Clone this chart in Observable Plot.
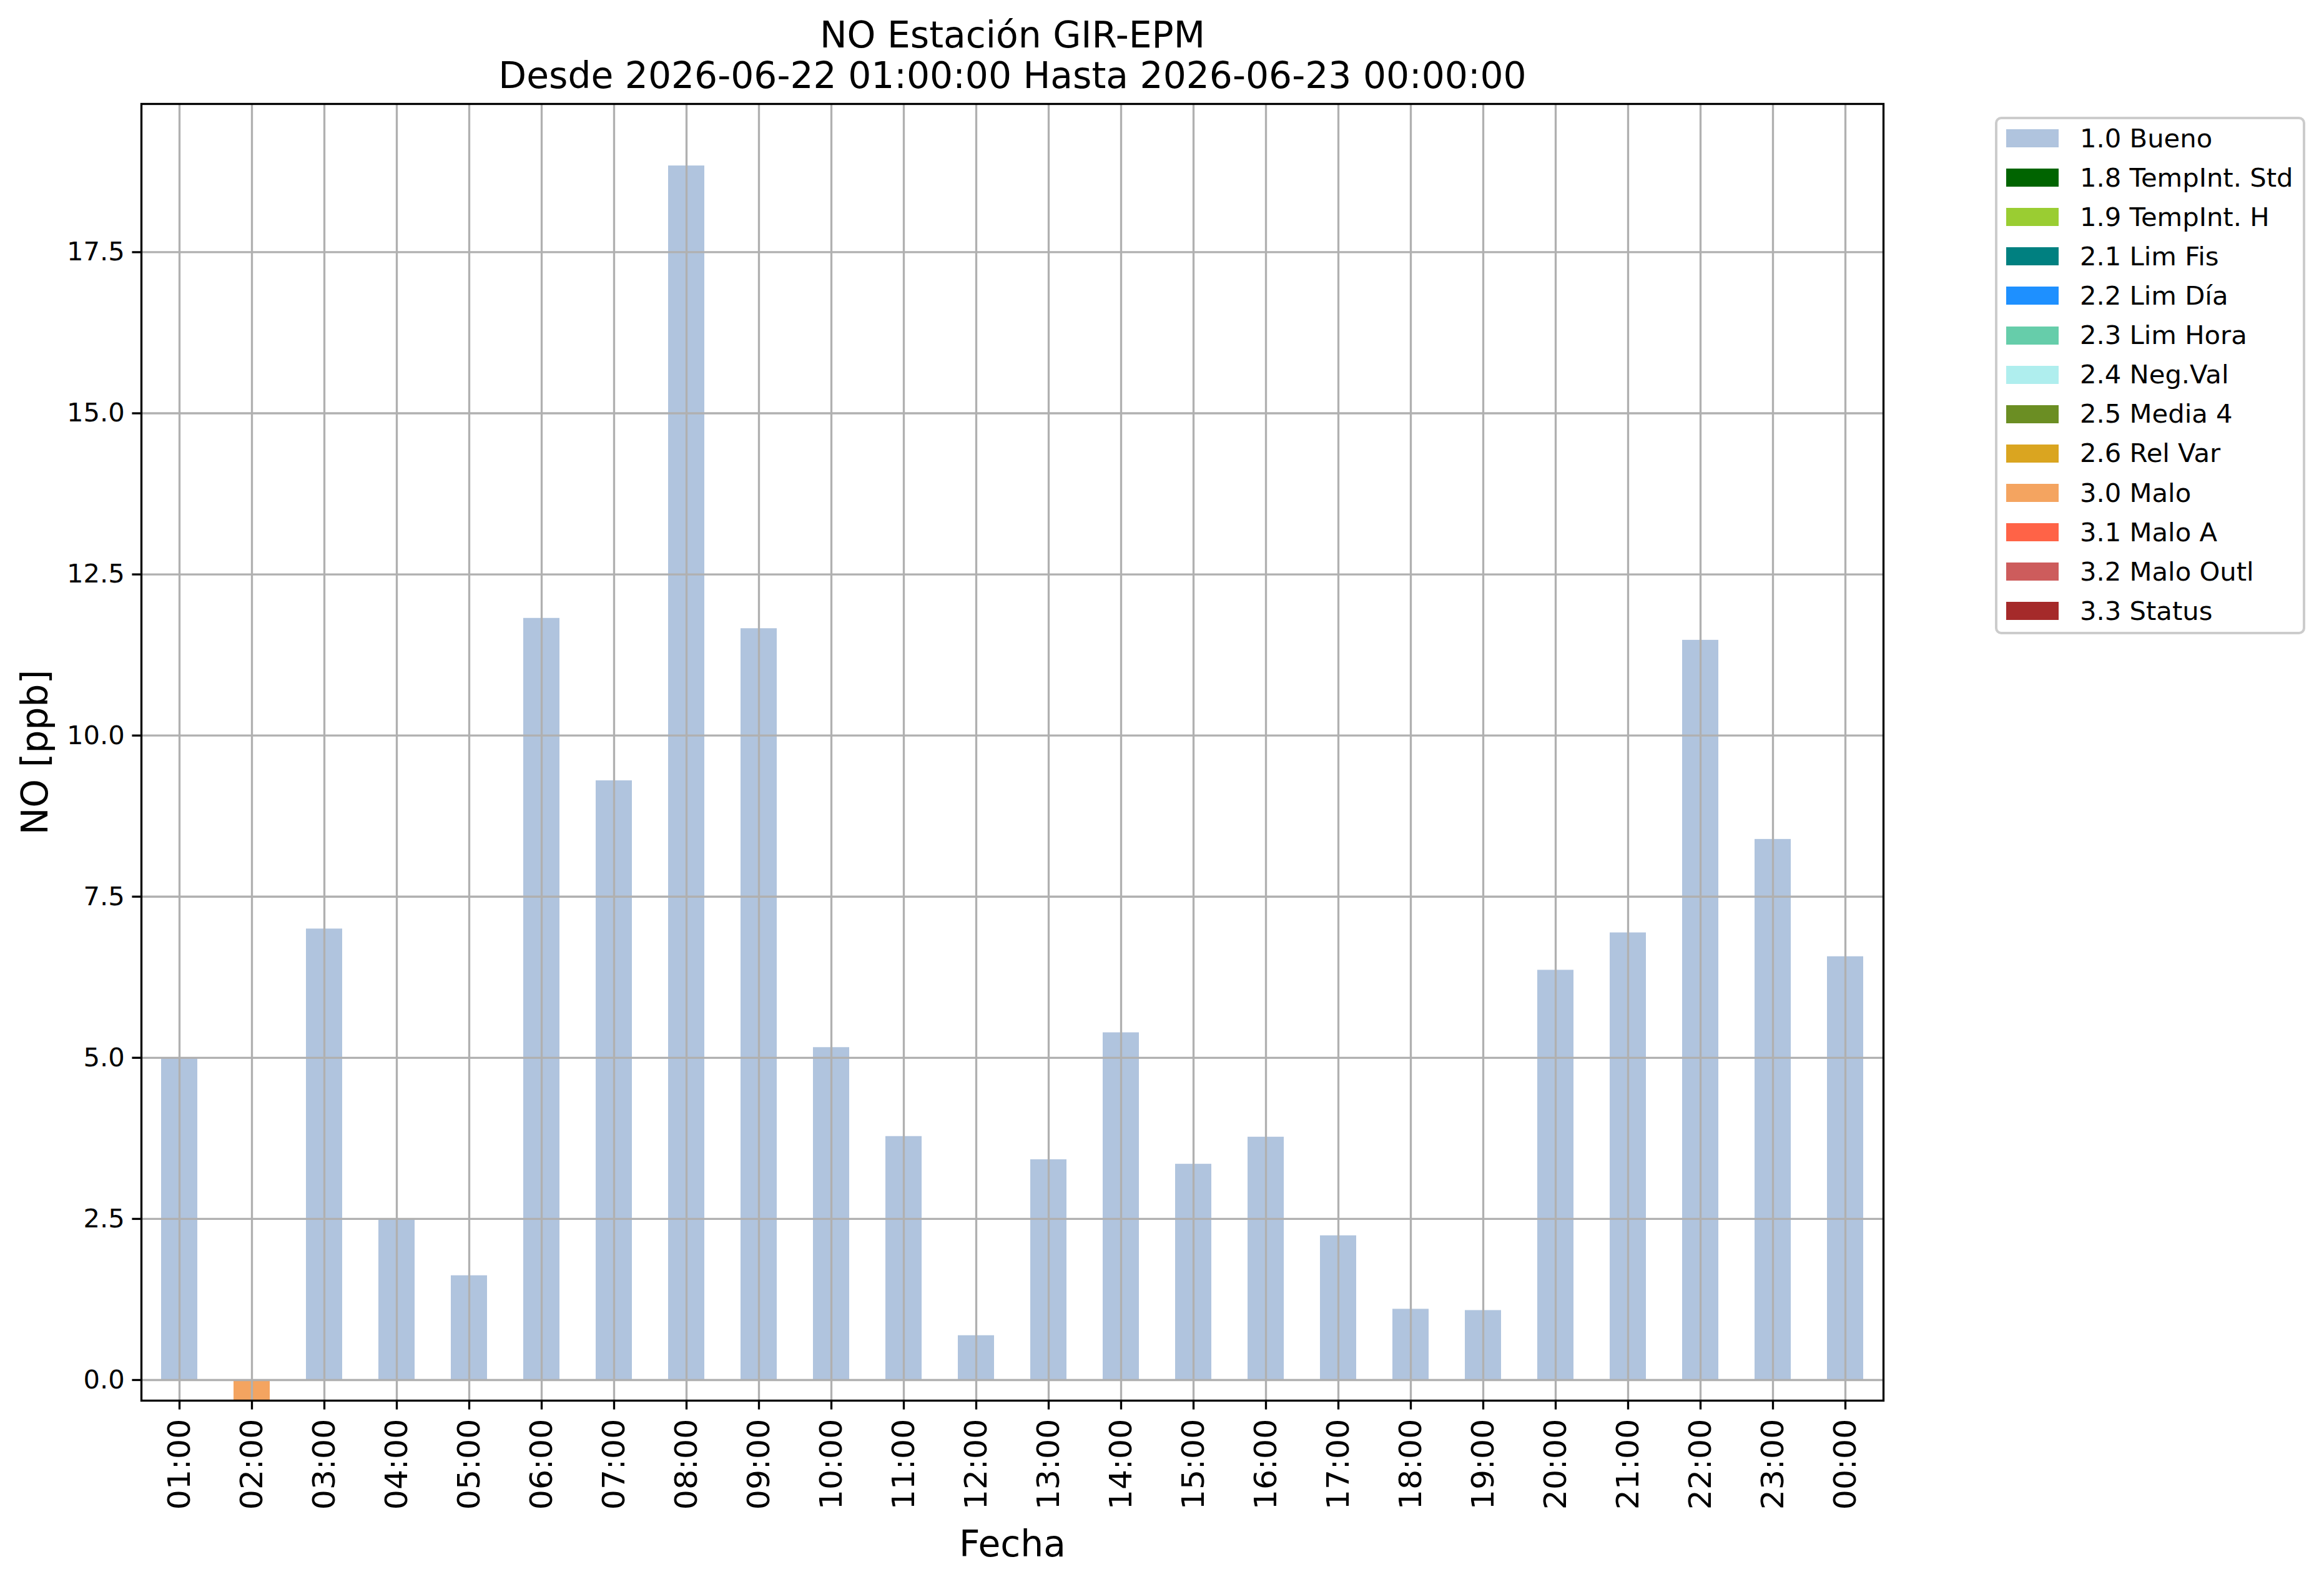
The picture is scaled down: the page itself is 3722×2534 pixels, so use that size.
<!DOCTYPE html>
<html>
<head>
<meta charset="utf-8">
<script src="https://cdn.jsdelivr.net/npm/d3@7"></script>
<script src="https://cdn.jsdelivr.net/npm/@observablehq/plot@0.6"></script>
<style>
  html, body { margin: 0; padding: 0; background: #fff; }
  body { width: 3722px; height: 2534px; overflow: hidden; font-family: "DejaVu Sans", sans-serif; }
  #wrap { position: relative; width: 3722px; height: 2534px; }
  #legend { position: absolute; left: 3195px; top: 187px; width: 489px; height: 821px;
            border: 4px solid #cccccc; border-radius: 10px; background: rgba(255,255,255,0.8); }
  .entry { position: absolute; left: 14px; height: 29px; display: flex; align-items: center; }
  .sw { width: 84px; height: 29px; }
  .lab { position: absolute; left: 118px; white-space: nowrap; font-size: 41.7px; color: #000; line-height: 1; }
</style>
</head>
<body>
<div id="wrap"></div>
<script>
// ---- data ----
const hours = ["01:00","02:00","03:00","04:00","05:00","06:00","07:00","08:00","09:00","10:00","11:00","12:00",
               "13:00","14:00","15:00","16:00","17:00","18:00","19:00","20:00","21:00","22:00","23:00","00:00"];
const values = [5.00, -0.32, 7.00, 2.50, 1.62, 11.82, 9.30, 18.84, 11.66, 5.16, 3.78, 0.69,
                3.42, 5.39, 3.35, 3.77, 2.24, 1.10, 1.08, 6.36, 6.94, 11.48, 8.39, 6.57];
const flags = ["1.0 Bueno","3.0 Malo","1.0 Bueno","1.0 Bueno","1.0 Bueno","1.0 Bueno","1.0 Bueno","1.0 Bueno",
               "1.0 Bueno","1.0 Bueno","1.0 Bueno","1.0 Bueno","1.0 Bueno","1.0 Bueno","1.0 Bueno","1.0 Bueno",
               "1.0 Bueno","1.0 Bueno","1.0 Bueno","1.0 Bueno","1.0 Bueno","1.0 Bueno","1.0 Bueno","1.0 Bueno"];
const legendLabels = ["1.0 Bueno","1.8 TempInt. Std","1.9 TempInt. H","2.1 Lim Fis","2.2 Lim Día","2.3 Lim Hora",
                      "2.4 Neg.Val","2.5 Media 4","2.6 Rel Var","3.0 Malo","3.1 Malo A","3.2 Malo Outl","3.3 Status"];
const legendColors = ["lightsteelblue","darkgreen","yellowgreen","teal","dodgerblue","mediumaquamarine",
                      "paleturquoise","olivedrab","goldenrod","sandybrown","tomato","indianred","brown"];
const yTicks = [0, 2.5, 5, 7.5, 10, 12.5, 15, 17.5];
const titleLines = ["NO Estación GIR-EPM", "Desde 2026-06-22 01:00:00 Hasta 2026-06-23 00:00:00"];
const xLabel = "Fecha";
const yLabel = "NO [ppb]";
const yDomain = [-0.32, 19.8];

const rows = hours.map((h, i) => ({hour: h, value: values[i], flag: flags[i]}));

const lw = 3.33;   // 0.8pt at 300dpi
const FONT = "DejaVu Sans";

const chart = Plot.plot({
  width: 3722,
  height: 2534,
  marginLeft: 226,
  marginRight: 706,
  marginTop: 166,
  marginBottom: 291,
  style: {fontFamily: FONT, background: "white", color: "black"},
  x: {type: "band", domain: hours, paddingInner: 0.5, paddingOuter: 0.25, align: 0.5},
  y: {domain: yDomain},
  color: {domain: legendLabels, range: legendColors},
  marks: [
    Plot.barY(rows, {x: "hour", y: "value", fill: "flag"}),
    Plot.gridX(hours, {x: d => d, stroke: "#b0b0b0", strokeOpacity: 1, strokeWidth: lw}),
    Plot.gridY(yTicks, {y: d => d, stroke: "#b0b0b0", strokeOpacity: 1, strokeWidth: lw}),
    Plot.axisY(yTicks, {tickFormat: d => d.toFixed(1), fontSize: 41.7, tickSize: 14.6, tickPadding: 12,
                        strokeWidth: lw, label: null}),
    Plot.axisX(hours, {tickRotate: -90, fontSize: 50.5, tickSize: 14.6, tickPadding: 14.6,
                       strokeWidth: lw, label: null}),
    Plot.frame({stroke: "black", strokeWidth: lw}),
    Plot.text([titleLines[0]], {text: d => d, frameAnchor: "top", dy: -91, lineAnchor: "bottom",
                                fontSize: 58.3, fill: "black"}),
    Plot.text([titleLines[1]], {text: d => d, frameAnchor: "top", dy: -26, lineAnchor: "bottom",
                                fontSize: 58.3, fill: "black"}),
    Plot.text([xLabel], {text: d => d, frameAnchor: "bottom", dy: 249, lineAnchor: "bottom",
                         fontSize: 58.3, fill: "black"}),
    Plot.text([yLabel], {text: d => d, frameAnchor: "left", dx: -151, rotate: -90, lineAnchor: "bottom",
                         textAnchor: "middle", fontSize: 58.3, fill: "black"})
  ]
});

const wrap = document.getElementById("wrap");
wrap.appendChild(chart);

// legend
const leg = document.createElement("div");
leg.id = "legend";
legendLabels.forEach((lab, i) => {
  const e = document.createElement("div");
  e.className = "entry";
  e.style.top = (207 - 191 + i * 63.1) + "px";
  const sw = document.createElement("div");
  sw.className = "sw";
  sw.style.background = legendColors[i];
  const t = document.createElement("span");
  t.className = "lab";
  t.textContent = lab;
  e.appendChild(sw);
  e.appendChild(t);
  leg.appendChild(e);
});
wrap.appendChild(leg);
</script>
</body>
</html>
